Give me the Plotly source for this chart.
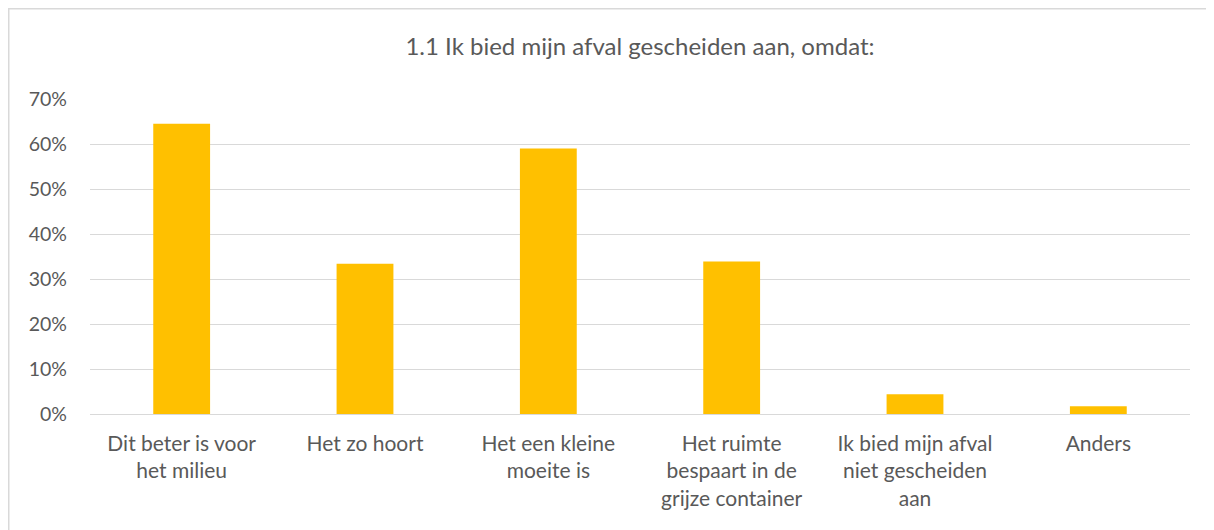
import plotly.graph_objects as go

categories = [
    "Dit beter is voor<br>het milieu",
    "Het zo hoort",
    "Het een kleine<br>moeite is",
    "Het ruimte<br>bespaart in de<br>grijze container",
    "Ik bied mijn afval<br>niet gescheiden<br>aan",
    "Anders",
]
values = [0.645, 0.334, 0.590, 0.339, 0.044, 0.017]
title_text = "1.1 Ik bied mijn afval gescheiden aan, omdat:"

FONT = "Lato, Carlito, 'Liberation Sans', sans-serif"
GREY = "#595959"

fig = go.Figure(
    go.Bar(x=categories, y=values, marker=dict(color="#FFC000", line=dict(width=0)), width=0.31)
)

# page body has an 8px margin; figure placed so plot area lands at page (90..1190, 99..414)
W, H = 1206, 522
ml, mr, mt, mb = 82, 24, 91, 116
pw = W - ml - mr
ph = H - mt - mb

fig.update_layout(
    width=W, height=H,
    margin=dict(l=ml, r=mr, t=mt, b=mb),
    paper_bgcolor="white", plot_bgcolor="white",
    font=dict(family=FONT, color=GREY, size=19),
    title=dict(text=title_text, x=0.5, xref="paper", xanchor="center",
               y=1 - 39 / H, yanchor="middle",
               font=dict(family=FONT, size=24, color=GREY)),
    showlegend=False,
    xaxis=dict(showgrid=False, showline=False, ticks="", ticklabelstandoff=15,
               tickfont=dict(size=21, color=GREY)),
    yaxis=dict(range=[0, 0.7], dtick=0.1, tickformat=".0%", showgrid=True,
               gridcolor="#D9D9D9", gridwidth=1.3, zeroline=True, zerolinecolor="#D9D9D9",
               zerolinewidth=1.3, showline=False, ticks="", ticklabelstandoff=22,
               tickfont=dict(size=19.5, color=GREY)),
    shapes=[dict(type="rect", xref="paper", yref="paper",
                 x0=(0.75 - ml) / pw, x1=(W + 10 - ml) / pw,
                 y0=-(mb + 10) / ph, y1=1 + (mt - 0.75) / ph,
                 line=dict(color="#D9D9D9", width=1.5), fillcolor="rgba(0,0,0,0)")],
)

fig.write_html("out.html")
